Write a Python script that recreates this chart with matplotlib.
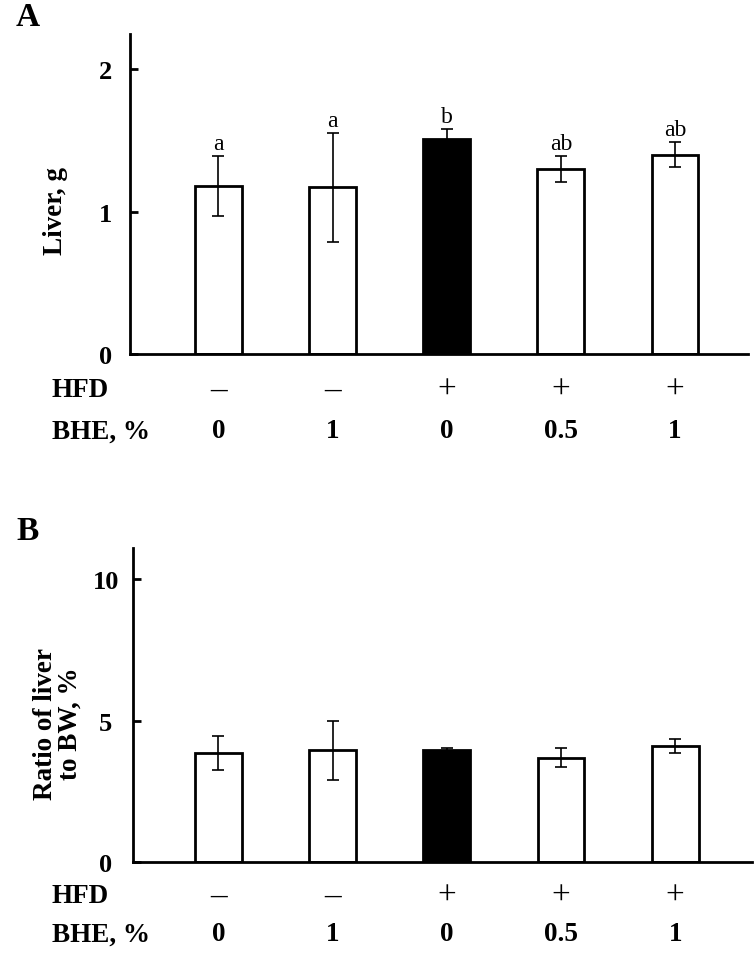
import numpy as np
import matplotlib
matplotlib.use('Agg')
import matplotlib.pyplot as plt

plt.rcParams['font.family'] = ['Liberation Serif', 'DejaVu Serif']

# data
hfd = ['\u2013', '\u2013', '+', '+', '+']
bhe = ['0', '1', '0', '0.5', '1']
liver_mean = [1.18, 1.17, 1.51, 1.30, 1.40]
liver_err = [0.21, 0.38, 0.07, 0.09, 0.09]
liver_letters = ['a', 'a', 'b', 'ab', 'ab']
ratio_mean = [3.84, 3.94, 3.94, 3.69, 4.11]
ratio_err = [0.60, 1.05, 0.09, 0.32, 0.25]
bar_colors = ['white', 'white', 'black', 'white', 'white']

W, H = 755, 954
fig = plt.figure(figsize=(W / 100, H / 100), dpi=100)

index = np.arange(len(bhe))
bar_width = 0.41


def panel(rect, means, errs, ylim, yticks, xlim, ylabel, lab_xy, rows, letters=None):
    ax = fig.add_axes(rect)
    ax.bar(index, means, bar_width, color=bar_colors, edgecolor='black',
           linewidth=2, zorder=2)
    ax.errorbar(index, means, yerr=errs, fmt='none', ecolor='black',
                elinewidth=1.2, capsize=4, capthick=1.2, zorder=3)
    ax.set_xlim(*xlim)
    ax.set_ylim(*ylim)
    ax.set_yticks(yticks)
    ax.set_yticklabels([str(t) for t in yticks], fontsize=19, fontweight='bold')
    ax.set_xticks([])
    for s in ['top', 'right']:
        ax.spines[s].set_visible(False)
    for s in ['left', 'bottom']:
        ax.spines[s].set_linewidth(2)
    ax.tick_params(axis='y', direction='in', length=6, width=2)
    for lbl in ax.get_yticklabels():
        lbl.set_horizontalalignment('center')
    ax.set_ylabel(ylabel, fontsize=19.5, fontweight='bold', linespacing=1.0)
    ax.yaxis.set_label_coords(*lab_xy)
    if letters is not None:
        for i, t in enumerate(letters):
            ax.annotate(t, (index[i], means[i] + errs[i]), xytext=(0, 5),
                        textcoords='offset points', ha='center', va='baseline',
                        fontsize=17)
    # treatment rows under the axis
    for i in index:
        ax.annotate(hfd[i], (index[i], 0), xycoords=('data', 'axes fraction'),
                    xytext=(0, -rows[0]), textcoords='offset points',
                    ha='center', va='center', fontsize=24)
        ax.annotate(bhe[i], (index[i], 0), xycoords=('data', 'axes fraction'),
                    xytext=(0, -rows[1]), textcoords='offset points',
                    ha='center', va='center', fontsize=19.5, fontweight='bold')
    return ax


# panel A
axA = panel([130 / W, 1 - 355.3 / H, 618 / W, 320.3 / H],
            liver_mean, liver_err, (0, 2.245), [0, 1, 2], (-0.775, 4.64),
            'Liver, g', (-0.100, 0.452), (25.5, 55), liver_letters)
axA.tick_params(axis='y', pad=17.5)

# panel B
axB = panel([132.7 / W, 1 - 862.7 / H, 619.3 / W, 313.4 / H],
            ratio_mean, ratio_err, (0, 11.1), [0, 5, 10], (-0.751, 4.673),
            'Ratio of liver\nto BW, %', (-0.080, 0.4426), (24.5, 52))
axB.tick_params(axis='y', pad=19.5)

# row labels and panel letters
for y, t in [(390.7, 'HFD'), (431.7, 'BHE, %'), (896.7, 'HFD'), (935, 'BHE, %')]:
    fig.text(52 / W, 1 - y / H, t, ha='left', va='center',
             fontsize=19.5, fontweight='bold')
fig.text(16 / W, 1 - 18 / H, 'A', ha='left', va='center',
         fontsize=24, fontweight='bold')
fig.text(16 / W, 1 - 532 / H, 'B', ha='left', va='center',
         fontsize=24, fontweight='bold')

fig.savefig('out.png', dpi=100)
